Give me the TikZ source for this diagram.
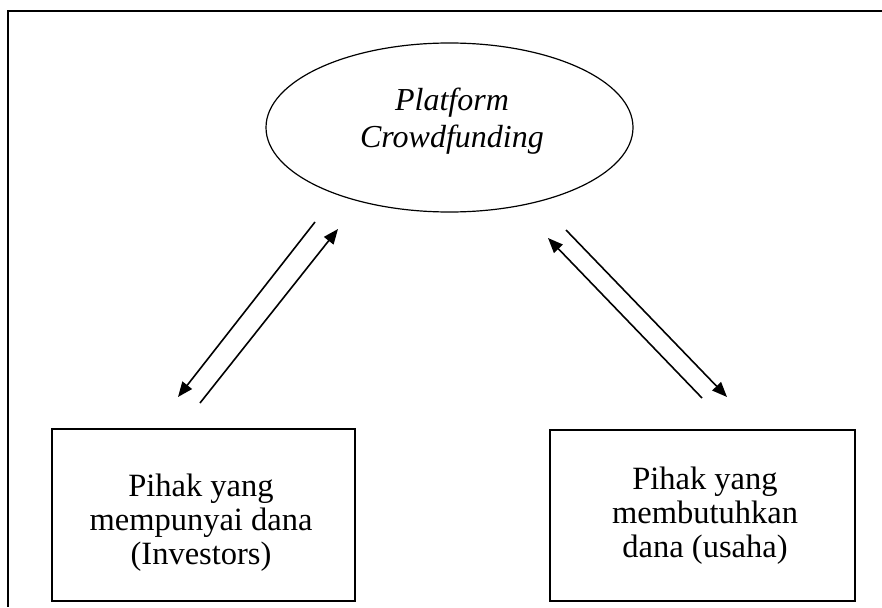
\documentclass[tikz,border=0pt]{standalone}
\usepackage{fontspec}
\setmainfont{Liberation Serif}
\usetikzlibrary{arrows.meta,shapes.geometric}

\begin{document}
\begin{tikzpicture}[x=1pt,y=-1pt,
  frameline/.style={line width=1.5pt},
  partybox/.style={draw,line width=1.4pt,rectangle,inner sep=0pt},
  platform/.style={draw,line width=1.2pt,ellipse,inner sep=0pt},
  boxtext/.style={align=center,font=\fontsize{32.5}{34}\selectfont},
  platformtext/.style={align=center,font=\itshape\fontsize{32}{36.5}\selectfont},
  flow/.style={line width=1.6pt,-{Triangle[length=15pt,width=12pt]}}]
  \useasboundingbox (0,0) rectangle (882,607);

  % outer frame (top and left edges)
  \draw[frameline] (882,11) -- (8,11) -- (8,607);

  % platform in the middle
  \node[platform,minimum width=367pt,minimum height=169pt] (plat) at (449.5,127.5) {};
  \node[platformtext] (platlbl) at (452,121) {Platform\\Crowdfunding};

  % the two parties
  \node[partybox,minimum width=303pt,minimum height=172pt] (inv) at (203.5,515) {};
  \node[boxtext] (invlbl) at (201,523) {Pihak yang\\mempunyai dana\\(Investors)};

  \node[partybox,minimum width=305pt,minimum height=171pt] (usaha) at (702.5,515.5) {};
  \node[boxtext] (usahalbl) at (705,516) {Pihak yang\\membutuhkan\\dana (usaha)};

  % arrow end points between the platform and the parties
  \coordinate (a1) at (315,222);
  \coordinate (a2) at (178,397);
  \coordinate (b1) at (200,403);
  \coordinate (b2) at (338,229);
  \coordinate (c1) at (566,230);
  \coordinate (c2) at (727,397);
  \coordinate (d1) at (702,398);
  \coordinate (d2) at (548,238);

  \draw[flow] (a1) -- (a2);
  \draw[flow] (b1) -- (b2);
  \draw[flow] (c1) -- (c2);
  \draw[flow] (d1) -- (d2);
\end{tikzpicture}
\end{document}
